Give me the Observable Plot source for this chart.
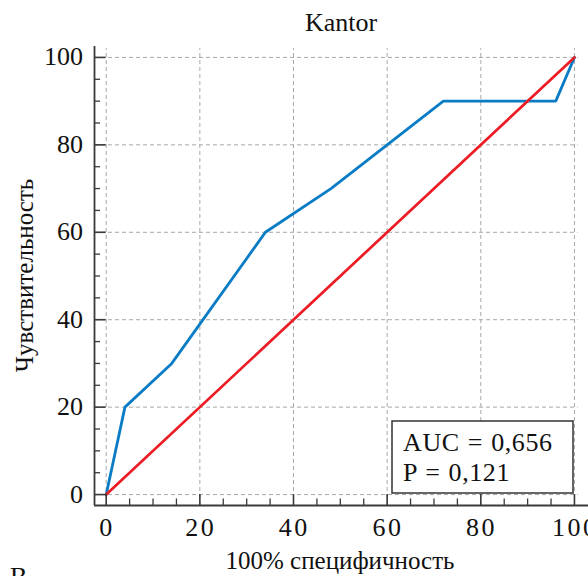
<!DOCTYPE html>
<html>
<head>
<meta charset="utf-8">
<script src="https://cdn.jsdelivr.net/npm/d3@7"></script>
<script src="https://cdn.jsdelivr.net/npm/@observablehq/plot@0.6"></script>
<style>
  html, body { margin: 0; padding: 0; background: white; }
  #wrap { position: relative; width: 588px; height: 576px; overflow: hidden; }
  #caption { position: absolute; left: 10px; top: 562px; font-family: "Liberation Serif", serif; font-size: 26px; color: #111; }
</style>
</head>
<body>
<div id="wrap"><div id="chart"></div><div id="caption">В</div></div>
<script>
// ---- data ----
const title = "Kantor";
const xLabel = "100% специфичность";
const yLabel = "Чувствительность";
const rocX = [0, 4, 14, 34, 48, 72, 96, 100];
const rocY = [0, 20, 30, 60, 70, 90, 90, 100];
const refX = [0, 100];
const refY = [0, 100];
const majorTicks = [0, 20, 40, 60, 80, 100];
const minorTicks = [5, 10, 15, 25, 30, 35, 45, 50, 55, 65, 70, 75, 85, 90, 95];
const legendLines = ["AUC = 0,656", "P = 0,121"];

const xDomain = [-2.5, 103];
const yDomain = [-2.5, 102.5];
const roc = rocX.map((x, i) => ({x, y: rocY[i]}));
const ref = refX.map((x, i) => ({x, y: refY[i]}));

const serif = "Liberation Serif";
const textColor = "#111";
const axisColor = "#3a3a3a";
const gridColor = "#a8a8a8";

function addText(g, x, y, t, anchor = "middle", size = 26) {
  return g.append("text").attr("x", x).attr("y", y).attr("text-anchor", anchor)
    .attr("font-family", serif).attr("font-size", size).attr("fill", textColor).text(t);
}

// tick labels and axis titles, positioned through the plot's scales
const textMark = (index, scales, values, dims) => {
  const g = d3.create("svg:g");
  const left = dims.marginLeft, bottom = dims.height - dims.marginBottom, top = dims.marginTop;
  const cx = (dims.marginLeft + dims.width - dims.marginRight) / 2;
  const cy = (top + bottom) / 2;
  majorTicks.forEach(d => addText(g, left - 11, scales.y(d) + 8.5, String(d), "end"));
  majorTicks.forEach(d => addText(g, scales.x(d) + 1.3, bottom + 31, String(d)).attr("letter-spacing", "2.5px"));
  addText(g, cx, top - 15, title);
  addText(g, cx - 1, bottom + 64, xLabel, "middle", 25);
  addText(g, 0, 0, yLabel, "middle", 25).attr("transform", `translate(${left - 61},${cy}) rotate(-90)`);
  return g.node();
};

const legendMark = (index, scales, values, dims) => {
  const g = d3.create("svg:g");
  const right = dims.width - dims.marginRight - 15;
  const bottom = dims.height - dims.marginBottom - 12;
  const w = 181, h = 72;
  g.append("rect").attr("x", right - w).attr("y", bottom - h).attr("width", w).attr("height", h)
    .attr("fill", "white").attr("stroke", "#333").attr("stroke-width", 1.5);
  legendLines.forEach((t, i) => addText(g, right - w + 11, bottom - h + 30 + i * 29.5, t, "start").attr("word-spacing", "1px").attr("letter-spacing", "0.6px"));
  return g.node();
};

const chart = Plot.plot({
  width: 588, height: 576,
  marginLeft: 94, marginRight: 0, marginTop: 46, marginBottom: 71,
  x: {domain: xDomain, axis: null},
  y: {domain: yDomain, axis: null},
  style: {background: "white", overflow: "visible"},
  marks: [
    // grid
    Plot.ruleX(majorTicks, {x: d => d, y1: yDomain[0], y2: yDomain[1] - 0.5, stroke: gridColor, strokeWidth: 1, strokeDasharray: "4,3"}),
    Plot.ruleY(majorTicks, {y: d => d, x1: xDomain[0], x2: 100.8, stroke: gridColor, strokeWidth: 1, strokeDasharray: "4,3"}),
    // curves
    Plot.line(roc, {x: "x", y: "y", stroke: "#0a7cc6", strokeWidth: 2.8, strokeLinejoin: "miter"}),
    Plot.line(ref, {x: "x", y: "y", stroke: "#ec1c24", strokeWidth: 2.7}),
    // spines
    Plot.ruleX([xDomain[0]], {y1: yDomain[0], y2: yDomain[1], stroke: axisColor, strokeWidth: 1.8}),
    Plot.ruleY([yDomain[0]], {x1: xDomain[0], x2: xDomain[1], stroke: axisColor, strokeWidth: 1.8}),
    // y ticks
    Plot.ruleY(majorTicks, {y: d => d, x1: xDomain[0], x2: 0, stroke: axisColor, strokeWidth: 1.6}),
    Plot.ruleY(minorTicks, {y: d => d, x1: xDomain[0], x2: -1.2, stroke: axisColor, strokeWidth: 1.3}),
    // x ticks
    Plot.ruleX(majorTicks, {x: d => d, y1: yDomain[0], y2: 0, stroke: axisColor, strokeWidth: 1.6}),
    Plot.ruleX(minorTicks, {x: d => d, y1: yDomain[0], y2: -1, stroke: axisColor, strokeWidth: 1.3}),
    textMark,
    legendMark
  ]
});
document.getElementById("chart").appendChild(chart);
</script>
</body>
</html>
